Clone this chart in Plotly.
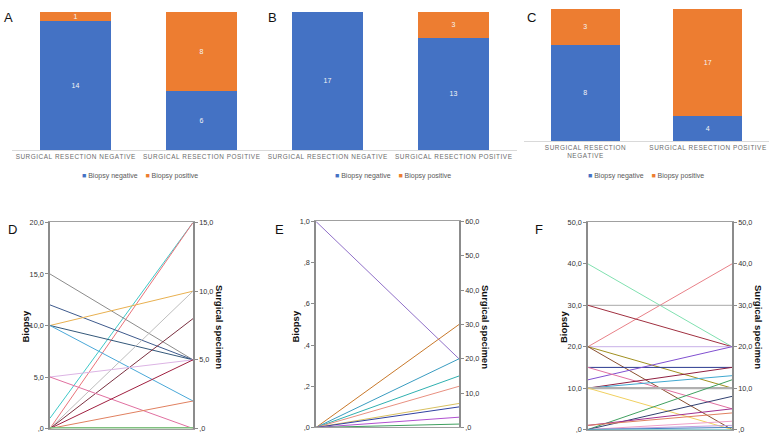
import plotly.graph_objects as go

BLUE = "#4472C4"
ORANGE = "#ED7D31"
AXIS_GREY = "#8c8c8c"
FONT = "Liberation Sans, Arial, sans-serif"

# ---- top row: stacked bars (counts, shown as 100% stacks)
CATEGORIES = ["SURGICAL RESECTION NEGATIVE", "SURGICAL RESECTION POSITIVE"]
A_NEG = [14, 6]
A_POS = [1, 8]
B_NEG = [17, 13]
B_POS = [0, 3]
C_NEG = [8, 4]
C_POS = [3, 17]

# ---- bottom row: paired biopsy / surgical specimen values
D_BIOPSY = [1, 0, 15, 12, 10, 10, 10, 0, 0, 5, 5, 0, 0, 0]
D_SPECIMEN = [15, 15, 5, 5, 10, 5, 2, 10, 8, 5, 0, 5, 2, 0]
D_COLORS = ["#3fc8c8", "#e8737a", "#8c8c8c", "#3e5a8c", "#e8b050", "#34587a",
            "#4aa8d8", "#bdbdbd", "#7a3040", "#dcb4e4", "#e070a0", "#a02040",
            "#e08060", "#80c080"]

E_BIOPSY = [1, 0, 0, 0, 0, 0, 0, 0, 0, 0]
E_SPECIMEN = [20, 30, 20, 15, 12, 7, 6, 3, 1, 0]
E_COLORS = ["#9070c8", "#c8782a", "#3a9cc0", "#30b0b0", "#e89080", "#d8c060",
            "#3040a0", "#b050d0", "#40a060", "#a03040"]

F_BIOPSY = [40, 20, 30, 30, 20, 20, 20, 15, 12, 15, 10, 10, 10, 10,
            0, 0, 1, 1, 0, 0, 0, 0]
F_SPECIMEN = [20, 40, 30, 20, 20, 10, 0, 15, 20, 5, 15, 13, 10, 0,
              12, 8, 5, 4, 2, 1, 0.5, 0]
F_COLORS = ["#80e0b0", "#e88088", "#a8a8a8", "#a03040", "#c8b0e8", "#a09020",
            "#8a5030", "#2a3a90", "#8050d0", "#e070a0", "#902040", "#40a8d0",
            "#b0b0b0", "#f0d060", "#40a060", "#304070", "#a03090", "#e08060",
            "#f0a0c8", "#c0a0e0", "#4080c0", "#30a0a0"]


def spaced(label):
    # wide letter tracking like the original category labels
    return "\u200a".join(label)


fig = go.Figure()

# ---------------- bar panels
bar_panels = [
    ("x", "y", A_NEG, A_POS),
    ("x2", "y2", B_NEG, B_POS),
    ("x3", "y3", C_NEG, C_POS),
]
for xa, ya, neg, pos in bar_panels:
    for vals, color in [(neg, BLUE), (pos, ORANGE)]:
        fig.add_trace(
            go.Bar(
                x=[0, 1],
                y=vals,
                xaxis=xa,
                yaxis=ya,
                width=0.56,
                marker=dict(color=color, line_width=0),
                text=[str(v) if v else "" for v in vals],
                textposition="inside",
                insidetextanchor="middle",
                textangle=0,
                textfont=dict(size=7, color="#f4f4f4", family=FONT),
                showlegend=False,
                hoverinfo="skip",
            )
        )

bar_x = dict(
    range=[-0.5, 1.5],
    tickvals=[0, 1],
    tickangle=0,
    automargin=False,
    showline=True,
    linecolor="#d9d9d9",
    linewidth=1,
    ticks="",
    showgrid=False,
    zeroline=False,
    tickfont=dict(size=6.4, color="#6b6b6b", family=FONT),
)
bar_y = dict(visible=False, range=[0, 100], automargin=False)

# ---------------- parallel line panels
line_panels = [
    ("x4", "y4", "y5", D_BIOPSY, D_SPECIMEN, D_COLORS, 20, 15),
    ("x5", "y6", "y7", E_BIOPSY, E_SPECIMEN, E_COLORS, 1, 60),
    ("x6", "y8", "y9", F_BIOPSY, F_SPECIMEN, F_COLORS, 50, 50),
]
for xa, yl, yr, biopsy, specimen, colors, bmax, smax in line_panels:
    for b, s, c in zip(biopsy, specimen, colors):
        w = 1
        if b == s == 0 and xa == "x4":
            w = 3
        if b == s == 10 and xa == "x6":
            w = 2.2
        fig.add_trace(
            go.Scatter(
                x=[0, 1],
                y=[b, s / smax * bmax],
                xaxis=xa,
                yaxis=yl,
                mode="lines",
                line=dict(color=c, width=w),
                showlegend=False,
                hoverinfo="skip",
                cliponaxis=False,
            )
        )
    fig.add_trace(
        go.Scatter(
            x=[1] * len(specimen),
            y=specimen,
            xaxis=xa,
            yaxis=yr,
            mode="markers",
            marker=dict(opacity=0),
            showlegend=False,
            hoverinfo="skip",
        )
    )


def fmt(v):
    s = f"{v:.1f}".replace(".", ",")
    return s[1:] if s.startswith("0") else s


def y_axis(vmax, step, **kw):
    vals = []
    v = 0
    while v <= vmax + 1e-9:
        vals.append(round(v, 6))
        v += step
    return dict(
        range=[0, vmax],
        tickvals=vals,
        ticktext=[fmt(t) for t in vals],
        ticks="outside",
        ticklen=3,
        tickcolor=AXIS_GREY,
        showline=True,
        linecolor=AXIS_GREY,
        linewidth=1.5,
        showgrid=False,
        zeroline=False,
        automargin=False,
        tickfont=dict(size=7.3, color="#333333", family=FONT),
        **kw,
    )


line_x = dict(
    range=[0, 1],
    showticklabels=False,
    ticks="",
    showline=True,
    mirror=True,
    linecolor="#a0a0a0",
    linewidth=1,
    showgrid=False,
    zeroline=False,
    automargin=False,
)

annotations = []
for txt, x, y in [("A", 8, 17.5), ("B", 272, 17.5), ("C", 531.5, 17.5),
                  ("D", 12, 229), ("E", 279, 229.5), ("F", 539, 229)]:
    annotations.append(dict(
        text=txt, x=x / 773, y=1 - y / 436, xref="paper", yref="paper",
        showarrow=False, font=dict(size=13, color="#111111", family=FONT),
        xanchor="center", yanchor="middle",
    ))

legend_text = (
    f"<span style='color:{BLUE}'>■</span> Biopsy negative"
    "\u00a0\u00a0\u00a0\u00a0"
    f"<span style='color:{ORANGE}'>■</span> Biopsy positive"
)
for cx in [140, 393, 645.5]:
    annotations.append(dict(
        text=legend_text, x=cx / 773, y=1 - 176 / 436, xref="paper", yref="paper",
        showarrow=False, font=dict(size=7, color="#595959", family=FONT),
        xanchor="center", yanchor="middle",
    ))

for bx, sx in [(24.5, 220), (294.5, 486), (563, 759)]:
    annotations.append(dict(
        text="Biopsy", x=bx / 773, y=1 - 327 / 436, xref="paper", yref="paper",
        showarrow=False, textangle=-90,
        font=dict(size=9.5, color="#111111", family=FONT, weight="bold"),
        xanchor="center", yanchor="middle",
    ))
    annotations.append(dict(
        text="Surgical specimen", x=sx / 773, y=1 - 327 / 436, xref="paper",
        yref="paper", showarrow=False, textangle=90,
        font=dict(size=9.5, color="#111111", family=FONT, weight="bold"),
        xanchor="center", yanchor="middle",
    ))

fig.update_layout(
    width=773,
    height=436,
    margin=dict(l=0, r=0, t=0, b=0, autoexpand=False),
    paper_bgcolor="white",
    plot_bgcolor="white",
    barmode="stack",
    barnorm="percent",
    uniformtext=dict(minsize=7, mode="show"),
    font=dict(family=FONT),
    showlegend=False,
    annotations=annotations,
    xaxis=dict(**bar_x, domain=[0.01617, 0.34217], anchor="y",
               ticktext=[spaced(c) for c in CATEGORIES]),
    yaxis=dict(**bar_y, domain=[0.65596, 0.97248], anchor="x"),
    xaxis2=dict(**bar_x, domain=[0.34217, 0.66818], anchor="y2",
                ticktext=[spaced(c) for c in CATEGORIES]),
    yaxis2=dict(**bar_y, domain=[0.65596, 0.97248], anchor="x2"),
    xaxis3=dict(**bar_x, domain=[0.67788, 0.99483], anchor="y3",
                ticktext=[spaced("SURGICAL RESECTION") + "<br>" + spaced("NEGATIVE"),
                          spaced(CATEGORIES[1])]),
    yaxis3=dict(**bar_y, domain=[0.67661, 0.97936], anchor="x3"),
    xaxis4=dict(**line_x, domain=[0.06468, 0.24968], anchor="y4"),
    yaxis4=y_axis(20, 5, domain=[0.0172, 0.4897], anchor="x4"),
    yaxis5=y_axis(15, 5, overlaying="y4", side="right", anchor="x4"),
    xaxis5=dict(**line_x, domain=[0.40880, 0.59379], anchor="y6"),
    yaxis6=y_axis(1, 0.2, domain=[0.0195, 0.4920], anchor="x5"),
    yaxis7=y_axis(60, 10, overlaying="y6", side="right", anchor="x5"),
    xaxis6=dict(**line_x, domain=[0.76067, 0.94696], anchor="y8"),
    yaxis8=y_axis(50, 10, domain=[0.0149, 0.4897], anchor="x6"),
    yaxis9=y_axis(50, 10, overlaying="y8", side="right", anchor="x6"),
)

fig.write_html(
    "out.html",
    config={"displayModeBar": False},
    post_script="document.body.style.margin='0';document.body.style.overflow='hidden';",
)
